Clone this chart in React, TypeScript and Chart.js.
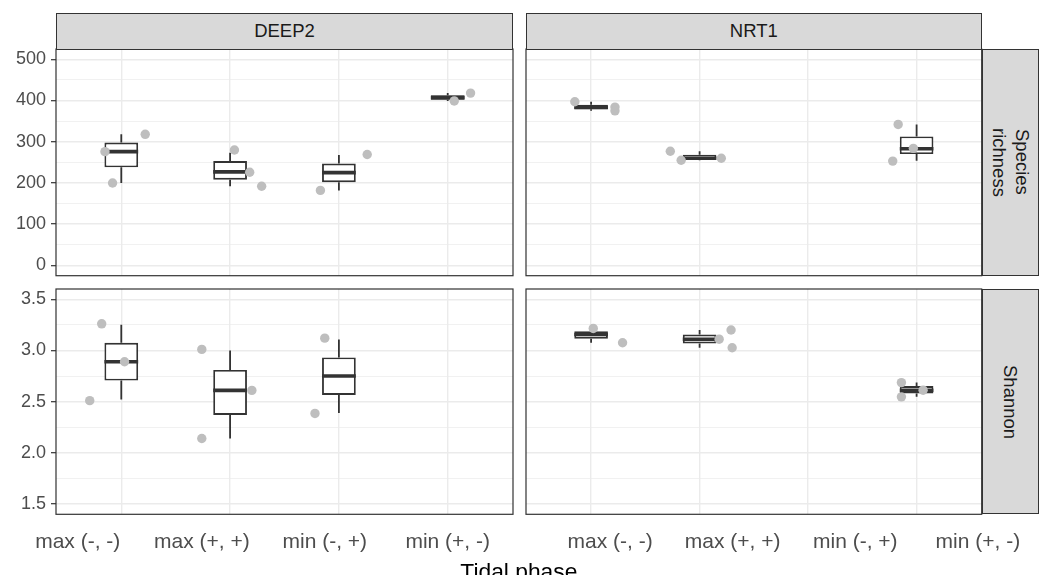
import React, { useEffect, useRef } from 'react';
import { Chart, registerables } from 'chart.js';

Chart.register(...registerables);

// ---------- data ----------
const PHASES = ['max (-, -)', 'max (+, +)', 'min (-, +)', 'min (+, -)'];
const SITES = ['DEEP2', 'NRT1'];
const METRICS = ['Species richness', 'Shannon'];
const X_AXIS_TITLE = 'Tidal phase';

const RICH_MAJOR = [0, 100, 200, 300, 400, 500];
const RICH_MINOR = [50, 150, 250, 350, 450];
const SHAN_MAJOR = [1.5, 2.0, 2.5, 3.0, 3.5];
const SHAN_MINOR = [1.75, 2.25, 2.75, 3.25];
const RICH_RANGE = [-25, 525];
const SHAN_RANGE = [1.4, 3.6];

// box statistics per phase: [lower whisker, q1, median, q3, upper whisker]
const RICH_DEEP2_BOX = [[200, 238, 276, 298, 318], [192, 208, 227, 253, 273], [182, 202, 225, 247, 268], [399, 402, 407, 413, 418]];
const RICH_NRT1_BOX = [[375, 379, 383, 390, 397], [255, 257.5, 260, 268.5, 277], null, [254, 270, 283, 313, 342]];
const SHAN_DEEP2_BOX = [[2.52, 2.706, 2.89, 3.075, 3.252], [2.14, 2.37, 2.61, 2.81, 3.0], [2.39, 2.566, 2.75, 2.932, 3.107], null];
const SHAN_NRT1_BOX = [[3.075, 3.115, 3.155, 3.187, 3.215], [3.026, 3.068, 3.11, 3.155, 3.2], null, [2.547, 2.58, 2.612, 2.653, 2.686]];

// samples: [phase index, horizontal jitter, value]
const RICH_DEEP2_PTS = [[0, -0.15, 276], [0, 0.22, 318], [0, -0.08, 200], [1, 0.04, 280], [1, 0.18, 226], [1, 0.29, 192], [2, 0.26, 269], [2, -0.17, 182], [3, 0.06, 399], [3, 0.21, 418]];
const RICH_NRT1_PTS = [[0, -0.15, 397], [0, 0.22, 384], [0, 0.22, 375], [1, -0.27, 277], [1, -0.17, 255], [1, 0.2, 260], [3, -0.17, 342], [3, -0.03, 284], [3, -0.22, 253]];
const SHAN_DEEP2_PTS = [[0, -0.18, 3.26], [0, 0.03, 2.89], [0, -0.29, 2.51], [1, -0.26, 3.01], [1, 0.2, 2.61], [1, -0.26, 2.14], [2, -0.13, 3.12], [2, -0.22, 2.385]];
const SHAN_NRT1_PTS = [[0, 0.02, 3.215], [0, 0.29, 3.075], [1, 0.29, 3.2], [1, 0.3, 3.026], [1, 0.18, 3.11], [3, -0.14, 2.686], [3, -0.14, 2.547], [3, 0.06, 2.612]];

// ---------- layout / style ----------
const FONT = '"Liberation Sans", Arial, Helvetica, sans-serif';
const GRID = '#EBEBEB';
const INK = '#333333';
const LABEL_SHIFT = { DEEP2: [-0.4, -0.26, -0.13, 0], NRT1: [0.175, 0.305, 0.435, 0.565] };

type PanelSpec = {
  left: number; top: number; width: number; height: number;
  padding: { left: number; top: number; right: number; bottom: number };
  box: (number[] | null)[];
  pts: number[][];
  range: number[];
  major: number[];
  minor: number[];
  fmt: (v: number) => string;
  showY: boolean;
  showX: boolean;
  shift: number[];
};

function buildConfig(p: PanelSpec): any {
  const yTicks = [...p.major, ...p.minor].sort((a, b) => a - b);
  const isMajor = (v: number) => p.major.some((m) => Math.abs(m - v) < 1e-9);
  const boxData = p.box
    .map((b, i) => (b ? { x: i, y: [b[1], b[3]] } : null))
    .filter(Boolean);
  const ptData = p.pts.map(([i, j, v]) => ({ x: i + j, y: v }));

  const boxPlugin = {
    id: 'boxWhiskers',
    afterDatasetDraw(chart: any, args: any) {
      if (args.index !== 1) return;
      const { ctx } = chart;
      const xs = chart.scales.x;
      const ys = chart.scales.y;
      const els = args.meta.data;
      let k = 0;
      ctx.save();
      ctx.strokeStyle = INK;
      ctx.lineCap = 'butt';
      p.box.forEach((b, i) => {
        if (!b) return;
        const el = els[k++];
        const cx = xs.getPixelForValue(i);
        const half = el ? el.width / 2 : 17;
        ctx.lineWidth = 1.8;
        ctx.beginPath();
        ctx.moveTo(cx, ys.getPixelForValue(b[3]));
        ctx.lineTo(cx, ys.getPixelForValue(b[4]));
        ctx.moveTo(cx, ys.getPixelForValue(b[1]));
        ctx.lineTo(cx, ys.getPixelForValue(b[0]));
        ctx.stroke();
        ctx.lineWidth = 3.6;
        ctx.beginPath();
        const my = ys.getPixelForValue(b[2]);
        ctx.moveTo(cx - half, my);
        ctx.lineTo(cx + half, my);
        ctx.stroke();
      });
      ctx.restore();
    },
    afterDraw(chart: any) {
      const { ctx, chartArea: a } = chart;
      ctx.save();
      ctx.strokeStyle = INK;
      ctx.lineWidth = 1.2;
      ctx.strokeRect(a.left, a.top, a.right - a.left, a.bottom - a.top);
      ctx.restore();
    },
  };

  const scales: any = {
    x: {
      type: 'linear',
      axis: 'x',
      position: 'bottom',
      weight: 0,
      min: -0.6,
      max: 3.6,
      offset: false,
      afterBuildTicks: (s: any) => {
        s.ticks = PHASES.map((_, i) => ({ value: i }));
      },
      ticks: { display: false },
      grid: { color: GRID, lineWidth: 1.4, drawTicks: false, offset: false },
      border: { display: false },
      afterFit: (s: any) => {
        s.height = 0;
        s.paddingLeft = 0;
        s.paddingRight = 0;
      },
    },
    y: {
      type: 'linear',
      axis: 'y',
      position: 'left',
      min: p.range[0],
      max: p.range[1],
      afterBuildTicks: (s: any) => {
        s.ticks = yTicks.map((v) => ({ value: v }));
      },
      ticks: {
        display: p.showY,
        autoSkip: false,
        padding: 5,
        color: '#4D4D4D',
        font: { family: FONT, size: 18 },
        callback: (v: number) => (isMajor(v) ? p.fmt(v) : ''),
      },
      grid: {
        color: GRID,
        lineWidth: (c: any) => (c.tick && !isMajor(c.tick.value) ? 0.7 : 1.4),
        drawTicks: p.showY,
        tickLength: 5,
        tickWidth: 1.2,
        tickColor: (c: any) => (c.tick && isMajor(c.tick.value) ? INK : 'rgba(0,0,0,0)'),
      },
      border: { display: false },
      afterFit: (s: any) => {
        s.width = p.showY ? 56 : 0;
        s.paddingTop = 0;
        s.paddingBottom = 0;
      },
    },
  };

  if (p.showX) {
    scales.xl = {
      type: 'linear',
      axis: 'x',
      position: 'bottom',
      weight: 1,
      min: -0.6,
      max: 3.6,
      offset: false,
      afterBuildTicks: (s: any) => {
        s.ticks = PHASES.map((_, i) => ({ value: i + p.shift[i] }));
      },
      ticks: {
        autoSkip: false,
        maxRotation: 0,
        minRotation: 0,
        padding: 15,
        color: '#4D4D4D',
        font: { family: FONT, size: 21 },
        callback: (_v: number, i: number) => PHASES[i],
      },
      grid: { display: false, drawTicks: false, offset: false },
      border: { display: false },
      afterFit: (s: any) => {
        s.height = 40;
        s.paddingLeft = 0;
        s.paddingRight = 0;
      },
    };
  }

  return {
    type: 'bar',
    data: {
      datasets: [
        {
          type: 'scatter',
          order: 0,
          data: ptData,
          pointRadius: 4.7,
          pointHoverRadius: 4.7,
          pointBackgroundColor: '#BEBEBE',
          pointBorderWidth: 0,
          showLine: false,
        },
        {
          type: 'bar',
          order: 1,
          data: boxData,
          backgroundColor: '#FFFFFF',
          borderColor: INK,
          borderWidth: 1.9,
          borderSkipped: false,
          barPercentage: 0.31,
          categoryPercentage: 1,
        },
      ],
    },
    options: {
      responsive: false,
      animation: false,
      events: [],
      layout: { padding: p.padding },
      plugins: { legend: { display: false }, tooltip: { enabled: false } },
      scales,
    },
    plugins: [boxPlugin],
  };
}

function Panel({ spec }: { spec: PanelSpec }) {
  const ref = useRef<HTMLCanvasElement | null>(null);
  useEffect(() => {
    if (!ref.current) return;
    const chart = new Chart(ref.current, buildConfig(spec));
    return () => chart.destroy();
  }, []);
  return (
    <canvas
      ref={ref}
      width={spec.width}
      height={spec.height}
      style={{ position: 'absolute', left: spec.left, top: spec.top, width: spec.width, height: spec.height }}
    />
  );
}

const fmtRich = (v: number) => String(v);
const fmtShan = (v: number) => v.toFixed(1);

const PANELS: PanelSpec[] = [
  {
    left: 0, top: 40, width: 519, height: 242,
    padding: { left: 0, top: 9, right: 6, bottom: 6.3 },
    box: RICH_DEEP2_BOX, pts: RICH_DEEP2_PTS, range: RICH_RANGE, major: RICH_MAJOR, minor: RICH_MINOR,
    fmt: fmtRich, showY: true, showX: false, shift: LABEL_SHIFT.DEEP2,
  },
  {
    left: 519, top: 40, width: 527, height: 242,
    padding: { left: 7, top: 9, right: 64.3, bottom: 6.3 },
    box: RICH_NRT1_BOX, pts: RICH_NRT1_PTS, range: RICH_RANGE, major: RICH_MAJOR, minor: RICH_MINOR,
    fmt: fmtRich, showY: false, showX: false, shift: LABEL_SHIFT.NRT1,
  },
  {
    left: 0, top: 282, width: 519, height: 293,
    padding: { left: 0, top: 7, right: 6, bottom: 20.7 },
    box: SHAN_DEEP2_BOX, pts: SHAN_DEEP2_PTS, range: SHAN_RANGE, major: SHAN_MAJOR, minor: SHAN_MINOR,
    fmt: fmtShan, showY: true, showX: true, shift: LABEL_SHIFT.DEEP2,
  },
  {
    left: 519, top: 282, width: 527, height: 293,
    padding: { left: 7, top: 7, right: 64.3, bottom: 20.7 },
    box: SHAN_NRT1_BOX, pts: SHAN_NRT1_PTS, range: SHAN_RANGE, major: SHAN_MAJOR, minor: SHAN_MINOR,
    fmt: fmtShan, showY: false, showX: true, shift: LABEL_SHIFT.NRT1,
  },
];

const stripBase: React.CSSProperties = {
  position: 'absolute',
  boxSizing: 'border-box',
  background: '#D9D9D9',
  border: `1.2px solid ${INK}`,
  color: '#1A1A1A',
  fontFamily: FONT,
  fontSize: 18.5,
  lineHeight: 1.2,
  display: 'flex',
  alignItems: 'center',
  justifyContent: 'center',
  textAlign: 'center',
};

export default function App() {
  const topStrips = [
    { left: 56, width: 457 },
    { left: 526, width: 455.7 },
  ];
  const sideStrips = [
    { top: 49, height: 226.7 },
    { top: 289, height: 225.3 },
  ];
  return (
    <div style={{ position: 'fixed', left: 0, top: 0, width: 1046, height: 575, overflow: 'hidden', background: '#FFFFFF' }}>
      {PANELS.map((p, i) => (
        <Panel key={i} spec={p} />
      ))}
      {SITES.map((s, i) => (
        <div key={s} style={{ ...stripBase, left: topStrips[i].left, top: 12.7, width: topStrips[i].width, height: 37 }}>
          {s}
        </div>
      ))}
      {METRICS.map((m, i) => (
        <div
          key={m}
          style={{ ...stripBase, left: 981.7, top: sideStrips[i].top, width: 57.3, height: sideStrips[i].height }}
        >
          <span style={{ writingMode: 'vertical-rl', whiteSpace: 'pre-line', lineHeight: 1.2 }}>
            {m.replace(' ', '\n')}
          </span>
        </div>
      ))}
      <div
        style={{
          position: 'absolute',
          left: 56,
          width: 925.7,
          top: 560,
          height: 22,
          lineHeight: '22px',
          textAlign: 'center',
          fontFamily: FONT,
          fontSize: 22.8,
          color: '#000000',
          whiteSpace: 'nowrap',
        }}
      >
        {X_AXIS_TITLE}
      </div>
    </div>
  );
}
